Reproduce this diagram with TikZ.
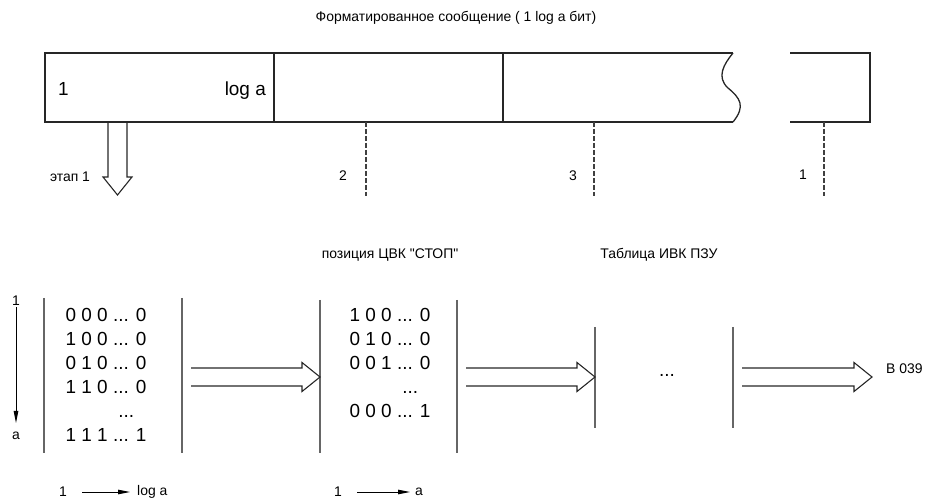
\documentclass[tikz,border=0pt]{standalone}
\usepackage{fontspec}
\newfontfamily\labfont{Liberation Sans}
\usetikzlibrary{arrows.meta,calc}
\tikzset{
  lab/.style   ={font=\labfont\fontsize{14}{16}\selectfont,inner sep=1bp},
  big/.style   ={font=\labfont\fontsize{19}{24}\selectfont,inner sep=1bp},
  tbl/.style   ={big,align=left},
  frame/.style ={line width=1.3bp,draw=black!85},
  bar/.style   ={line width=1.3bp,draw=black!60},
  cut/.style   ={line width=1.1bp,draw=black!75,dash pattern=on 5bp off 2bp},
  hollow/.style={line width=1.1bp,draw=black!85,line join=miter},
  vec/.style   ={line width=0.9bp,-{Triangle[length=12bp,width=4.5bp]}},
}
\newcommand{\hollowarrow}[2]{%
  \draw[hollow] ($(#1)+(9,-9)$) -- ($(#2)+(-18,-9)$) -- ($(#2)+(-18,-14.5)$)
    -- (#2) -- ($(#2)+(-18,14.5)$) -- ($(#2)+(-18,9)$) -- ($(#1)+(9,9)$);}

\begin{document}
\begin{tikzpicture}[x=1bp,y=-1bp]
\useasboundingbox (0,0) rectangle (928,501);
% title
\node[lab] (title) at (456,18) {Форматированное сообщение ( 1 log a бит)};
% message frame
\draw[frame] (733,53) -- (45,53) -- (45,122) -- (733,122);
\draw[frame] (274,53) -- (274,122) (503,53) -- (503,122);
\draw[frame] (733,53) .. controls (724,64) and (716,77) .. (728,88)
  .. controls (740,98) and (746,106) .. (733,122);
\draw[frame] (790,53) -- (870,53) -- (870,122) -- (790,122);
\node[big,anchor=base west] (first) at (57,96) {1};
\node[big,anchor=base east] (last) at (267,96) {log a};
% stage marks
\coordinate (f2) at (366,122);  \coordinate (f2e) at (366,196);
\coordinate (f3) at (594,122);  \coordinate (f3e) at (594,196);
\coordinate (f1) at (824,122);  \coordinate (f1e) at (824,196);
\draw[cut] (f2) -- (f2e);
\draw[cut] (f3) -- (f3e);
\draw[cut] (f1) -- (f1e);
\node[lab] (n2) at (343,176) {2};
\node[lab] (n3) at (573,176) {3};
\node[lab] (n1) at (803,175) {1};
\node[lab] (stage) at (70,177) {этап 1};
% stage 1 arrow
\coordinate (s1) at (117.5,122);
\coordinate (s1t) at (117.5,195);
\draw[hollow] ($(s1)+(-9.5,0)$) -- ($(s1t)+(-9.5,-18)$) -- ($(s1t)+(-14.5,-18)$)
  -- (s1t) -- ($(s1t)+(14.5,-18)$) -- ($(s1t)+(9.5,-18)$) -- ($(s1)+(9.5,0)$);
% tables
\node[lab] (pos) at (390,255) {позиция ЦВК "СТОП"};
\node[lab] (tab) at (659,255) {Таблица ИВК ПЗУ};
\foreach \x/\t/\b in {44/298/453,182/298/453,320/300/453,457/300/453,595/327/428,733/327/428}
  \draw[bar] (\x,\t) -- (\x,\b);
\node[tbl] (codes) at (106,375) {0 0 0 ... 0\\1 0 0 ... 0\\0 1 0 ... 0\\1 1 0 ... 0\\\phantom{0 0 0 .}...\\1 1 1 ... 1};
\node[tbl] (stop) at (390,363) {1 0 0 ... 0\\0 1 0 ... 0\\0 0 1 ... 0\\\phantom{0 0 0 .}...\\0 0 0 ... 1};
\node[big] (dots) at (667,375) {...};
\node[lab,anchor=west] (dest) at (885,369) {В 039};
% transfers
\coordinate (m1) at (182,377);
\coordinate (m2) at (320,377);
\coordinate (m3) at (457,377);
\coordinate (m4) at (595,377);
\coordinate (m5) at (733,377);
\coordinate (out) at (872,377);
\hollowarrow{m1}{m2}
\hollowarrow{m3}{m4}
\hollowarrow{m5}{out}
% index arrows
\node[lab] (r1) at (16,301) {1};
\node[lab] (ra) at (16,436) {a};
\draw[vec,shorten >=8bp] (r1.south) -- (ra.north);
\node[lab] (h1) at (63,492) {1};
\node[lab,anchor=west] (hlog) at (136,492) {log a};
\draw[vec,shorten <=14bp,shorten >=6bp] (h1) -- (h1 -| hlog.west);
\node[lab] (w1) at (338,492) {1};
\node[lab,anchor=west] (wa) at (414,492) {a};
\draw[vec,shorten <=14bp,shorten >=4bp] (w1) -- (w1 -| wa.west);
\end{tikzpicture}
\end{document}
